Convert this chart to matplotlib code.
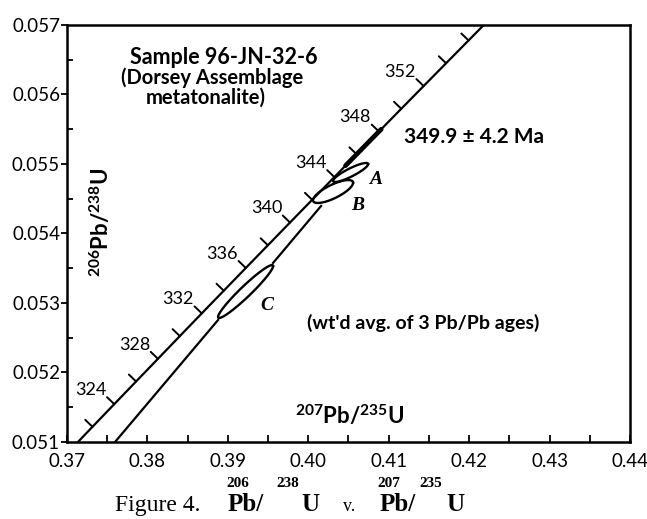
import numpy as np
import matplotlib
matplotlib.use('Agg')
import matplotlib.pyplot as plt
from matplotlib.ticker import MultipleLocator, FormatStrFormatter

plt.rcParams['font.family'] = ['Lato', 'DejaVu Sans']
plt.rcParams['mathtext.fontset'] = 'custom'
plt.rcParams['mathtext.rm'] = 'Lato'
plt.rcParams['mathtext.bf'] = 'Lato:bold'
plt.rcParams['mathtext.it'] = 'Lato:italic'

# ---- data ----
# Concordia points (age in Ma, 207Pb/235U, 206Pb/238U)
conc_age = [320, 322, 324, 326, 328, 330, 332, 334, 336, 338, 340,
            342, 344, 346, 348, 350, 352, 354, 356, 358]
conc_x = [0.370467, 0.373169, 0.375876, 0.378589, 0.381307, 0.384030,
          0.386759, 0.389493, 0.392233, 0.394978, 0.397728, 0.400484,
          0.403245, 0.406012, 0.408784, 0.411562, 0.414345, 0.417133,
          0.419927, 0.422727]
conc_y = [0.050892, 0.051219, 0.051545, 0.051871, 0.052197, 0.052524,
          0.052851, 0.053177, 0.053504, 0.053831, 0.054158, 0.054485,
          0.054812, 0.055140, 0.055467, 0.055795, 0.056122, 0.056450,
          0.056778, 0.057106]
tick_ages = [322, 324, 326, 328, 330, 332, 334, 336, 338, 340, 342,
             344, 346, 348, 350, 352, 354, 356]
label_ages = [324, 328, 332, 336, 340, 344, 348, 352]

# Analyses (error ellipses): centre, half-extent, correlation
an_names = ['A', 'B', 'C']
an_x = [0.40526, 0.40308, 0.39220]
an_xerr = [0.00218, 0.00249, 0.00342]
an_y = [0.054878, 0.054604, 0.053165]
an_yerr = [0.000137, 0.000165, 0.000381]
an_rho = [0.88, 0.76, 0.96]
an_label_x = [0.40831, 0.40619, 0.39488]
an_label_y = [0.05477, 0.05441, 0.052957]

# Reference line (broken around ellipse C)
ref_x = [0.37597, 0.38878, np.nan, 0.39562, 0.40159]
ref_y = [0.051, 0.052755, np.nan, 0.053576, 0.054396]

# Mean age segment on concordia
mean_x = [0.404629, 0.409062]
mean_y = [0.054976, 0.055500]

x_ticks = [0.37, 0.38, 0.39, 0.40, 0.41, 0.42, 0.43, 0.44]
y_ticks = [0.051, 0.052, 0.053, 0.054, 0.055, 0.056, 0.057]

# ---- figure ----
W, H = 647, 519
fig = plt.figure(figsize=(W / 100, H / 100), dpi=100)
ax = fig.add_axes([67 / W, 1 - 442 / H, (630 - 67) / W, (442 - 25) / H])
ax.set_xlim(0.37, 0.44)
ax.set_ylim(0.051, 0.057)


def px(x, y):
    return x / W, 1 - y / H


# concordia
ax.plot(conc_x, conc_y, color='black', lw=1.6, solid_capstyle='butt')

# age ticks and labels
for age in tick_ages:
    i = conc_age.index(age)
    ax.annotate('', xy=(conc_x[i], conc_y[i]), xytext=(-5.2, 5.0),
                textcoords='offset points',
                arrowprops=dict(arrowstyle='-', lw=1.4, color='black',
                                shrinkA=0, shrinkB=0))
for age in label_ages:
    i = conc_age.index(age)
    ax.annotate(str(age), xy=(conc_x[i], conc_y[i]), xytext=(-17.0, 10.2),
                textcoords='offset points', ha='center', va='center',
                fontsize=13, color='black')

# reference line
ax.plot(ref_x, ref_y, color='black', lw=1.6)

# mean age thick segment
ax.plot(mean_x, mean_y, color='black', lw=3.4, solid_capstyle='round')

# ellipses
t = np.linspace(0, 2 * np.pi, 300)
for cx, ex, cy, ey, r in zip(an_x, an_xerr, an_y, an_yerr, an_rho):
    ex_pts = cx + ex * np.cos(t)
    ey_pts = cy + ey * (r * np.cos(t) + np.sqrt(1 - r * r) * np.sin(t))
    ax.plot(ex_pts, ey_pts, color='black', lw=1.7)
for name, lx, ly in zip(an_names, an_label_x, an_label_y):
    ax.text(lx, ly, name, fontsize=14, fontstyle='italic', fontweight='bold',
            ha='center', va='center', family=['Liberation Serif'])

# axes styling
ax.set_xticks(x_ticks)
ax.set_yticks(y_ticks)
ax.xaxis.set_major_formatter(FormatStrFormatter('%.2f'))
ax.yaxis.set_major_formatter(FormatStrFormatter('%.3f'))
ax.xaxis.set_minor_locator(MultipleLocator(0.005))
ax.yaxis.set_minor_locator(MultipleLocator(0.0005))
ax.tick_params(axis='x', which='both', direction='in', length=5, width=1.3,
               labelsize=13.5, pad=8)
ax.tick_params(axis='y', which='major', direction='out', length=4, width=1.3,
               labelsize=13.5, pad=1)
ax.tick_params(axis='y', which='minor', direction='in', length=4, width=1.3)
for s in ax.spines.values():
    s.set_linewidth(1.8)

# texts inside
fig.text(*px(224, 57), 'Sample 96-JN-32-6', fontsize=15.5, fontweight='bold',
         ha='center', va='center')
fig.text(*px(212, 78), '(Dorsey Assemblage', fontsize=14.5, fontweight='bold',
         ha='center', va='center')
fig.text(*px(206, 98), 'metatonalite)', fontsize=14.5, fontweight='bold',
         ha='center', va='center')
fig.text(*px(474, 137), '349.9 \u00b1 4.2 Ma', fontsize=15, fontweight='bold',
         ha='center', va='center')
fig.text(*px(423, 323), "(wt'd avg. of 3 Pb/Pb ages)", fontsize=14,
         fontweight='bold', ha='center', va='center')

# axis labels (inside)
fig.text(*px(350, 416), r'$^{\mathbf{207}}\mathbf{Pb/}^{\mathbf{235}}\mathbf{U}$',
         fontsize=16, ha='center', va='center')
fig.text(*px(101, 222), r'$^{\mathbf{206}}\mathbf{Pb/}^{\mathbf{238}}\mathbf{U}$',
         fontsize=16, ha='center', va='center', rotation=90)

# caption
serif = ['Liberation Serif']
base = 511
fig.text(*px(115, base), 'Figure 4.', fontsize=17, family=serif,
         ha='left', va='baseline')
caption_parts = [
    (226, 487, '206', 11),
    (228, base, 'Pb/', 18),
    (276, 487, '238', 11),
    (301, base, 'U', 18),
    (343, base, 'v.', 13),
    (377, 487, '207', 11),
    (380, base, 'Pb/', 18),
    (419, 487, '235', 11),
    (446, base, 'U', 18),
]
for x, y, s, fs in caption_parts:
    fig.text(*px(x, y), s, fontsize=fs, family=serif, fontweight='bold'
             if s != 'v.' else 'normal', ha='left', va='baseline')

fig.savefig('out.png', dpi=100)
